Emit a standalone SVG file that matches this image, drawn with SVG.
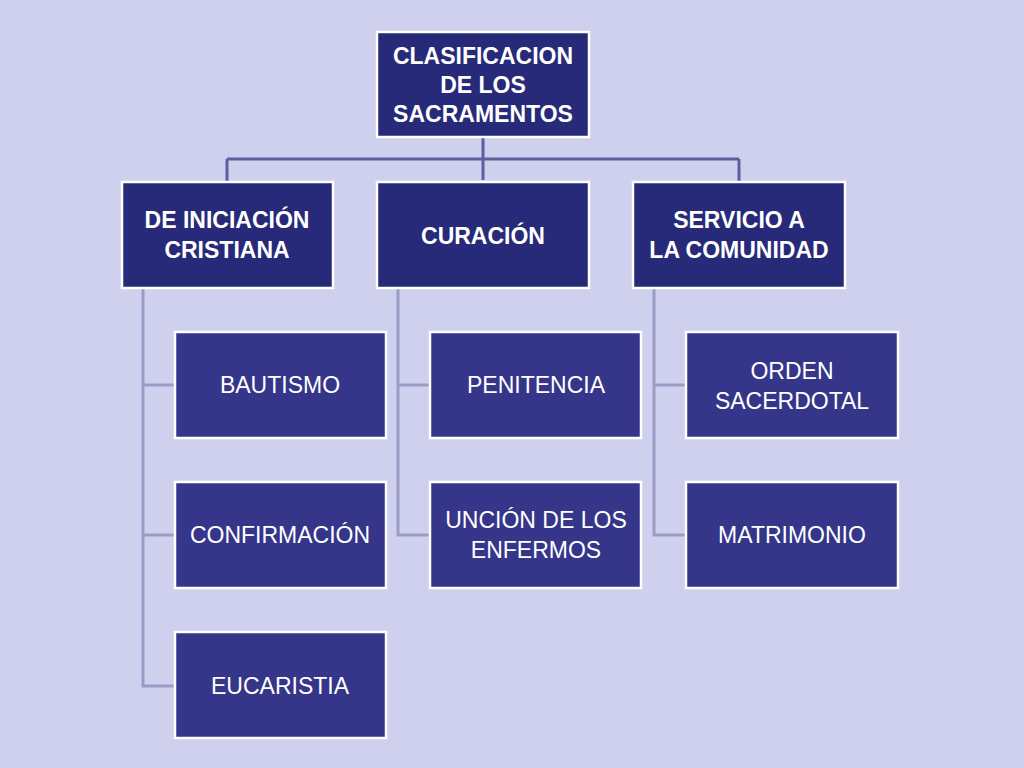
<svg xmlns="http://www.w3.org/2000/svg" width="1024" height="768" viewBox="0 0 1024 768">
<style>
.a{fill:#272a78;stroke:#fff;stroke-width:2.5}
.b{fill:#35368a;stroke:#fff;stroke-width:2.5}
.t{font-family:"Liberation Sans",Arial,sans-serif;fill:#fff;text-anchor:middle;font-size:23px}
.tb{font-weight:bold}
.c1{stroke:#5b5f9f;stroke-width:3;fill:none}
.c2{stroke:#9a9cc6;stroke-width:3;fill:none}
</style>
<rect width="1024" height="768" fill="#cfd0ee"/>
<g id="connectors">
<path class="c1" d="M483 137V180M227 159H739M227 159V182M739 159V182"/>
<path class="c2" d="M143 288V686H175M143 385H175M143 535H175M398 288V535H430M398 385H430M654 288V535H686M654 385H686"/>
</g>
<g id="root"><rect class="a" x="377" y="32" width="212" height="105"/>
<text class="t tb" x="483" y="64">CLASIFICACION</text><text class="t tb" x="483" y="93">DE LOS</text><text class="t tb" x="483" y="122">SACRAMENTOS</text></g>
<g id="iniciacion"><rect class="a" x="122" y="182" width="211" height="106"/>
<text class="t tb" x="227" y="228">DE INICIACIÓN</text><text class="t tb" x="227" y="258">CRISTIANA</text></g>
<g id="curacion"><rect class="a" x="377" y="182" width="212" height="106"/>
<text class="t tb" x="483" y="244">CURACIÓN</text></g>
<g id="servicio"><rect class="a" x="633" y="182" width="212" height="106"/>
<text class="t tb" x="739" y="228">SERVICIO A</text><text class="t tb" x="739" y="258">LA COMUNIDAD</text></g>
<g id="bautismo"><rect class="b" x="175" y="332" width="211" height="106"/><text class="t" x="280" y="393">BAUTISMO</text></g>
<g id="confirmacion"><rect class="b" x="175" y="482" width="211" height="106"/><text class="t" x="280" y="543">CONFIRMACIÓN</text></g>
<g id="eucaristia"><rect class="b" x="175" y="632" width="211" height="106"/><text class="t" x="280" y="694">EUCARISTIA</text></g>
<g id="penitencia"><rect class="b" x="430" y="332" width="211" height="106"/><text class="t" x="536" y="393">PENITENCIA</text></g>
<g id="uncion"><rect class="b" x="430" y="482" width="211" height="106"/><text class="t" x="536" y="528">UNCIÓN DE LOS</text><text class="t" x="536" y="558">ENFERMOS</text></g>
<g id="orden"><rect class="b" x="686" y="332" width="212" height="106"/><text class="t" x="792" y="379">ORDEN</text><text class="t" x="792" y="409">SACERDOTAL</text></g>
<g id="matrimonio"><rect class="b" x="686" y="482" width="212" height="106"/><text class="t" x="792" y="543">MATRIMONIO</text></g>
</svg>
